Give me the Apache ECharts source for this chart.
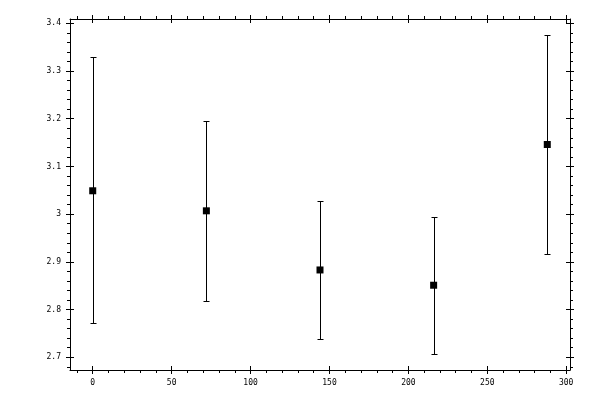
<!DOCTYPE html>
<html>
<head>
<meta charset="utf-8">
<script src="https://cdn.jsdelivr.net/npm/echarts@6/dist/echarts.min.js"></script>
<style>html,body{margin:0;padding:0;background:#fff}#c{width:600px;height:400px}</style>
</head>
<body>
<div id="c"></div>
<script>
// Data
const xValues = [0, 72, 144, 216, 288];
const yMeans  = [3.049, 3.007, 2.883, 2.851, 3.146];
const yUpper  = [3.329, 3.195, 3.028, 2.994, 3.375];
const yLower  = [2.771, 2.818, 2.738, 2.707, 2.917];

// Tick labels
const xMajorTicks = [0, 50, 100, 150, 200, 250, 300];
const yMajorTicks = [2.7, 2.8, 2.9, 3, 3.1, 3.2, 3.3, 3.4];

// Axis ranges
const xMin = -14.4, xMax = 302.4;
const yMin = 2.6733, yMax = 3.4091;

const xMinorTicks = [];
for (let v = -10; v <= 300; v += 10) xMinorTicks.push(v);
const yMinorTicks = [];
for (let i = 134; i <= 170; i++) yMinorTicks.push(Math.round(i * 2) / 100);

const FONT = 'DejaVu Sans Mono';
const BLACK = '#000';

function axisPair(dim, pos, withLabels) {
  const major = dim === 'x' ? xMajorTicks : yMajorTicks;
  const minor = dim === 'x' ? xMinorTicks : yMinorTicks;
  const min = dim === 'x' ? xMin : yMin;
  const max = dim === 'x' ? xMax : yMax;
  const a = {
    type: 'value', position: pos, min: min, max: max,
    axisLine: { show: true, onZero: false, lineStyle: { color: BLACK, width: 1 } },
    axisTick: { show: true, inside: false, length: 3, customValues: minor, lineStyle: { color: BLACK, width: 1 } },
    axisLabel: withLabels ? { show: true, customValues: major, margin: 9, fontFamily: FONT, fontSize: 8, color: BLACK,
      formatter: v => String(v) } : { show: false },
    splitLine: { show: false }
  };
  const b = {
    type: 'value', position: pos, min: min, max: max, offset: 4,
    axisLine: { show: false, onZero: false },
    axisTick: { show: true, inside: true, length: 8, customValues: major, lineStyle: { color: BLACK, width: 1 } },
    axisLabel: { show: false },
    splitLine: { show: false }
  };
  return [a, b];
}

const chart = echarts.init(document.getElementById('c'), null, { renderer: 'canvas' });

const pointData = xValues.map((x, i) => [x, yMeans[i]]);
const errData = xValues.map((x, i) => [x, yLower[i], yUpper[i]]);

chart.setOption({
  animation: false,
  backgroundColor: '#fff',
  grid: { left: 70, right: 30, top: 19, bottom: 30, containLabel: false },
  xAxis: [...axisPair('x', 'bottom', true), ...axisPair('x', 'top', false)],
  yAxis: [...axisPair('y', 'left', true), ...axisPair('y', 'right', false)],
  series: [
    {
      type: 'custom',
      xAxisIndex: 0, yAxisIndex: 0,
      data: errData,
      renderItem: function (params, api) {
        const x = api.value(0);
        const lo = api.coord([x, api.value(1)]);
        const hi = api.coord([x, api.value(2)]);
        const px = Math.round(lo[0]) + 0.5;
        const yl = Math.round(lo[1]) + 0.5;
        const yh = Math.round(hi[1]) + 0.5;
        const hw = 3;
        const style = { stroke: BLACK, lineWidth: 1 };
        return {
          type: 'group',
          children: [
            { type: 'line', shape: { x1: px, y1: yl, x2: px, y2: yh }, style: style },
            { type: 'line', shape: { x1: px - hw, y1: yh, x2: px + hw, y2: yh }, style: style },
            { type: 'line', shape: { x1: px - hw, y1: yl, x2: px + hw, y2: yl }, style: style }
          ]
        };
      },
      z: 2
    },
    {
      type: 'scatter',
      xAxisIndex: 0, yAxisIndex: 0,
      data: pointData,
      symbol: 'rect',
      symbolSize: 7,
      itemStyle: { color: BLACK, opacity: 1 },
      z: 3
    }
  ]
});
</script>
</body>
</html>
